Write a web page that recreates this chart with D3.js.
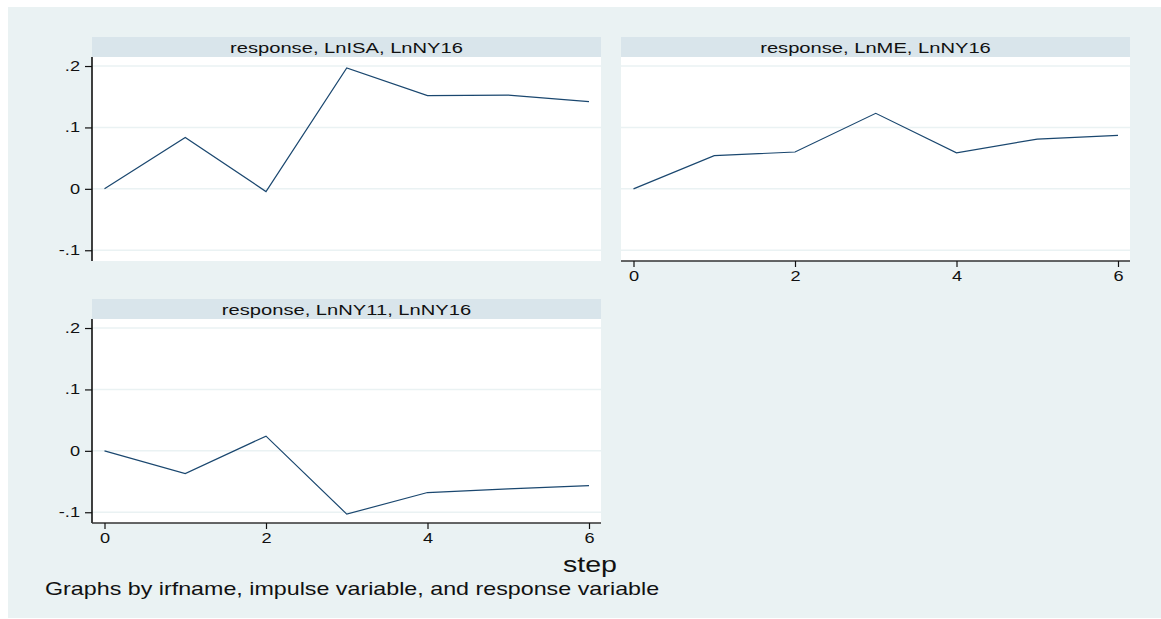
<!DOCTYPE html>
<html>
<head>
<meta charset="utf-8">
<script src="https://cdn.jsdelivr.net/npm/d3@7"></script>
<style>
  html, body { margin: 0; padding: 0; background: #fff; }
  svg text { font-family: "Liberation Sans", Arial, sans-serif; fill: #111; }
  .stretch { transform-box: fill-box; }
</style>
</head>
<body>
<svg width="1161" height="619"></svg>
<script>
'use strict';
// data
const steps = [0, 1, 2, 3, 4, 5, 6];
const panelTitles = ['response, LnISA, LnNY16', 'response, LnME, LnNY16', 'response, LnNY11, LnNY16'];
const irfISA = [0, 0.0837, -0.0044, 0.197, 0.1517, 0.1527, 0.1419];
const irfME = [0, 0.054, 0.060, 0.123, 0.0587, 0.081, 0.087];
const irfNY11 = [0, -0.0369, 0.024, -0.103, -0.0679, -0.062, -0.0565];
const yTicks = [-0.1, 0, 0.1, 0.2];
const yTickLabels = ['-.1', '0', '.1', '.2'];
const xTicks = [0, 2, 4, 6];
const xTitle = 'step';
const note = 'Graphs by irfname, impulse variable, and response variable';

const SX = 1.3; // the picture is stretched sideways
const NAVY = '#1a476f', BG = '#eaf2f3', STRIP = '#d9e5eb';

const svg = d3.select('svg');
svg.append('rect').attr('x', 8).attr('y', 7).attr('width', 1153).attr('height', 611).attr('fill', BG);

function stretch(sel, anchor) {
  const origin = anchor === 'end' ? '100% 50%' : anchor === 'start' ? '0% 50%' : '50% 50%';
  sel.attr('class', 'stretch')
    .style('transform-origin', origin)
    .style('transform', `scaleX(${SX})`);
}

const panels = [
  { title: panelTitles[0], values: irfISA, left: 92, top: 37, yAxis: true, xAxis: false },
  { title: panelTitles[1], values: irfME, left: 621, top: 37, yAxis: false, xAxis: true },
  { title: panelTitles[2], values: irfNY11, left: 92, top: 299, yAxis: true, xAxis: true }
];
const W = 509, stripH = 20, plotH = 204;

panels.forEach(p => {
  const g = svg.append('g').attr('transform', `translate(${p.left},${p.top})`);
  g.append('rect').attr('width', W).attr('height', stripH).attr('fill', STRIP);
  g.append('text')
    .attr('x', W / 2).attr('y', stripH / 2 + 0.5)
    .attr('text-anchor', 'middle').attr('dominant-baseline', 'central')
    .style('font-size', '15.5px')
    .text(p.title)
    .call(stretch, 'middle');

  const pg = g.append('g').attr('transform', `translate(0,${stripH})`);
  pg.append('rect').attr('width', W).attr('height', plotH).attr('fill', '#fff');

  const x = d3.scaleLinear().domain([0, 6]).range([12.5, 497]);
  const y = d3.scaleLinear().domain([-0.1175, 0.2147]).range([plotH, 0]);

  pg.selectAll('line.grid').data(yTicks).enter().append('line')
    .attr('class', 'grid')
    .attr('x1', 0).attr('x2', W)
    .attr('y1', d => y(d)).attr('y2', d => y(d))
    .attr('stroke', BG).attr('stroke-width', 1.5);

  pg.append('path')
    .datum(p.values)
    .attr('fill', 'none')
    .attr('stroke', NAVY)
    .attr('stroke-width', 1.2)
    .attr('d', d3.line().x((d, i) => x(steps[i])).y(d => y(d)));

  if (p.yAxis) {
    const ya = pg.append('g')
      .call(d3.axisLeft(y).tickValues(yTicks).tickSize(7).tickPadding(5)
        .tickFormat((d, i) => yTickLabels[i]));
    ya.select('.domain').attr('stroke', '#111').attr('stroke-width', 1.6).attr('d', `M0,0V${plotH}`);
    ya.selectAll('.tick line').attr('stroke', '#111').attr('stroke-width', 1.2);
    ya.selectAll('.tick text')
      .attr('fill', '#111').style('font-size', '14px').attr('font-family', null)
      .each(function() { stretch(d3.select(this), 'end'); });
  }
  if (p.xAxis) {
    const xa = pg.append('g').attr('transform', `translate(0,${plotH})`)
      .call(d3.axisBottom(x).tickValues(xTicks).tickSize(6).tickPadding(4).tickFormat(d3.format('d')));
    xa.select('.domain').attr('stroke', '#333').attr('stroke-width', 1.6).attr('d', `M0,0H${W}`);
    xa.selectAll('.tick line').attr('stroke', '#111').attr('stroke-width', 1.2);
    xa.selectAll('.tick text')
      .attr('fill', '#111').style('font-size', '14px').attr('font-family', null)
      .each(function() { stretch(d3.select(this), 'middle'); });
  }
});

svg.append('text')
  .attr('x', 617).attr('y', 572)
  .attr('text-anchor', 'end')
  .style('font-size', '22px')
  .text(xTitle)
  .call(stretch, 'end');

svg.append('text')
  .attr('x', 45).attr('y', 595)
  .style('font-size', '17.9px')
  .text(note)
  .call(stretch, 'start');
</script>
</body>
</html>
